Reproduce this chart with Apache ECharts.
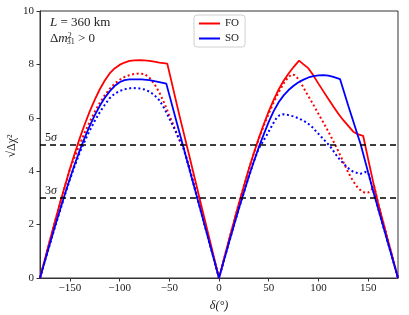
<!DOCTYPE html>
<html>
<head>
<meta charset="utf-8">
<script src="https://cdn.jsdelivr.net/npm/echarts@6/dist/echarts.min.js"></script>
<style>html,body{margin:0;padding:0;background:#fff;}#c{width:409px;height:315px;}</style>
</head>
<body>
<div id="c"></div>
<script>
// ---- data (delta in degrees, sqrt(Δχ²)) ----
const foSolidX = [-180,-175,-170,-165,-160,-155,-150,-145,-140,-135,-130,-125,-120,-115,-110,-105,-100,-95,-90,-85,-80,-75,-70,-65,-60,-52,-40,-30,-20,-10,0,
  5,10,15,20,25,30,35,40,45,50,55,60,65,70,75,80.5,85,90,95,100,105,110,115,120,125,130,135,140,145,150,155,160,170,180];
const foSolidY = [0,0.71,1.42,2.11,2.79,3.44,4.08,4.67,5.24,5.76,6.24,6.67,7.06,7.39,7.66,7.85,7.98,8.07,8.13,8.15,8.16,8.15,8.13,8.1,8.07,8.03,6.12,4.6,3.05,1.53,0,
  0.71,1.42,2.11,2.79,3.44,4.08,4.67,5.24,5.76,6.24,6.67,7.06,7.39,7.66,7.9,8.14,8.0,7.85,7.58,7.28,6.99,6.7,6.42,6.15,5.91,5.7,5.48,5.38,5.32,4.45,3.6,2.8,1.4,0];

const foDotX = [-180,-175,-170,-165,-160,-155,-150,-145,-140,-135,-130,-125,-120,-115,-110,-105,-100,-95,-90,-85,-80,-75,-70,-65,-60,-55,-50,-45,-40,-36,-30,-20,-10,0,
  5,10,15,20,25,30,35,40,45,50,55,60,66,70,73,76,80,84,88,94,100,105,110,115,120,125,130,135,140,144,147,150,153,156,160,170,180];
const foDotY = [0,0.7,1.4,2.1,2.78,3.43,4.05,4.55,5.0,5.45,5.85,6.22,6.55,6.84,7.08,7.28,7.42,7.53,7.6,7.64,7.66,7.64,7.5,7.27,6.95,6.55,6.1,5.65,5.18,4.9,4.18,2.82,1.42,0,
  0.71,1.42,2.11,2.79,3.44,4.08,4.67,5.2,5.7,6.15,6.58,6.95,7.35,7.53,7.62,7.6,7.45,7.2,6.93,6.55,6.15,5.82,5.48,5.12,4.75,4.35,3.95,3.62,3.36,3.24,3.19,3.2,3.28,3.44,2.8,1.4,0];

const soSolidX = [-180,-175,-170,-165,-160,-155,-150,-145,-140,-135,-130,-125,-120,-115,-110,-105,-100,-95,-90,-78,-70,-60,-53,-40,-30,-20,-10,0,
  5,10,15,20,25,30,35,40,45,50,55,60,65,70,75,80,85,90,95,100,105,110,115,121.7,130,142.5,150,157,170,180];
const soSolidY = [0,0.65,1.29,1.93,2.54,3.14,3.72,4.27,4.78,5.26,5.7,6.09,6.44,6.74,6.99,7.19,7.33,7.41,7.44,7.44,7.41,7.34,7.28,5.48,4.11,2.74,1.37,0,
  0.66,1.32,1.97,2.6,3.2,3.8,4.36,4.9,5.38,5.85,6.25,6.58,6.84,7.04,7.2,7.33,7.43,7.51,7.56,7.59,7.6,7.58,7.53,7.45,6.45,5.0,3.95,3.0,1.3,0];

const soDotX = [-180,-175,-170,-165,-160,-155,-150,-145,-140,-135,-130,-125,-120,-115,-110,-105,-100,-95,-87,-80,-75,-70,-65,-60,-55,-50,-45,-40,-36,-30,-20,-10,0,
  5,10,15,20,25,30,35,40,44,48,52,55,58,61,65,70,75,80,88,93,98,103,108,112,118,122,127,131,135,142,147,150,157,170,180];
const soDotY = [0,0.64,1.27,1.9,2.5,3.1,3.68,4.2,4.7,5.13,5.52,5.88,6.2,6.48,6.73,6.9,7.0,7.07,7.12,7.1,7.06,6.98,6.85,6.66,6.35,5.98,5.6,5.2,4.9,4.11,2.74,1.37,0,
  0.66,1.32,1.97,2.6,3.2,3.8,4.36,4.85,5.1,5.35,5.62,5.82,6.0,6.1,6.13,6.1,6.05,5.98,5.83,5.68,5.48,5.28,5.08,4.92,4.6,4.41,4.22,4.08,3.98,3.9,3.97,3.95,3.0,1.3,0];

const xTicks = [-150,-100,-50,0,50,100,150];
const yTicks = [0,2,4,6,8,10];
const sigmaLevels = [5,3];
const sigmaLabels = ['5', '3'];
const seriesNames = ['FO', 'SO'];

function pairs(xs, ys){ return xs.map((x,i)=>[x, ys[i]]); }
const SERIF = '"Liberation Serif","DejaVu Serif",serif';
const RED = '#ff0000', BLUE = '#0000ff';

const chart = echarts.init(document.getElementById('c'), null, {renderer:'canvas'});
chart.setOption({
  animation: false,
  backgroundColor: '#fff',
  grid: {left: 40, right: 11, top: 11, bottom: 37, outerBoundsMode: 'none', containLabel: false,
    show: true, borderColor: '#333', borderWidth: 1, backgroundColor: 'transparent'},
  legend: {
    data: seriesNames,
    orient: 'vertical',
    left: 194, top: 15,
    itemWidth: 21, itemHeight: 10, itemGap: 4,
    padding: [3, 6, 3, 4],
    borderColor: '#d0d0d0', borderWidth: 1, borderRadius: 3,
    itemStyle: {opacity: 0},
    textStyle: {fontFamily: SERIF, fontSize: 11, color: '#222'}
  },
  xAxis: {
    type: 'value', min: -180, max: 180,
    name: 'δ(°)', nameLocation: 'middle', nameGap: 22,
    nameTextStyle: {fontFamily: SERIF, fontSize: 12, color: '#222', fontStyle: 'italic'},
    axisLine: {show: true, onZero: false, lineStyle: {color: '#333', width: 1}},
    axisTick: {show: true, length: 3.5, inside: false, customValues: xTicks, lineStyle: {color: '#333'}},
    axisLabel: {customValues: xTicks, fontFamily: SERIF, fontSize: 11, color: '#222', margin: 5,
      formatter: v => (v < 0 ? '\u2212' + Math.abs(v) : String(v))},
    splitLine: {show: false}
  },
  yAxis: {
    type: 'value', min: 0, max: 10, interval: 2,
    axisLine: {show: true, onZero: false, lineStyle: {color: '#333', width: 1}},
    axisTick: {show: true, length: 3.5, inside: false, lineStyle: {color: '#333'}},
    axisLabel: {customValues: yTicks, fontFamily: SERIF, fontSize: 11, color: '#222', margin: 6},
    splitLine: {show: false}
  },
  graphic: [
    {type: 'text', x: 12, y: 146, rotation: Math.PI / 2, style: {
      text: '\u221A\u0394\u03C7\u00B2', fill: '#222', align: 'center', verticalAlign: 'middle',
      font: '12px ' + SERIF}},
    {type: 'text', left: 50, top: 16, style: {
      text: '{i|L} = 360 km', fill: '#222',
      rich: {i: {fontFamily: SERIF, fontSize: 13, fontStyle: 'italic', fill: '#222'}},
      font: '13px ' + SERIF}},
    {type: 'text', left: 50, top: 32, style: {
      text: '\u0394{i|m}{s|2}{b|31} > 0', fill: '#222',
      rich: {i: {fontFamily: SERIF, fontSize: 13, fontStyle: 'italic', fill: '#222'},
             s: {fontFamily: SERIF, fontSize: 8, fill: '#222', verticalAlign: 'top', padding: [0,0,6,0]},
             b: {fontFamily: SERIF, fontSize: 8, fill: '#222', padding: [6,0,0,-5]}},
      font: '13px ' + SERIF}}
  ],
  series: [
    {name: seriesNames[0], type: 'line', data: pairs(foSolidX, foSolidY), symbol: 'none', z: 3,
      lineStyle: {color: RED, width: 1.8}, itemStyle: {color: RED},
      markLine: {silent: true, symbol: 'none', animation: false,
        lineStyle: {color: '#000', type: [6, 4], width: 1.6},
        label: {position: 'insideStartTop', distance: [5, 1], fontFamily: SERIF, fontSize: 12, color: '#222',
          rich: {i: {fontFamily: SERIF, fontSize: 12, fontStyle: 'italic', color: '#222'}}},
        data: sigmaLevels.map((v,i)=>({yAxis: v, label: {formatter: sigmaLabels[i] + '{i|\u03C3}'}}))}},
    {name: seriesNames[1], type: 'line', data: pairs(soSolidX, soSolidY), symbol: 'none', z: 3,
      lineStyle: {color: BLUE, width: 1.8}, itemStyle: {color: BLUE}},
    {name: 'FO-dotted', type: 'line', data: pairs(foDotX, foDotY), symbol: 'none', z: 2,
      lineStyle: {color: RED, width: 2, type: [2, 2.6]}, itemStyle: {color: RED}},
    {name: 'SO-dotted', type: 'line', data: pairs(soDotX, soDotY), symbol: 'none', z: 2,
      lineStyle: {color: BLUE, width: 2, type: [2, 2.6]}, itemStyle: {color: BLUE}}
  ]
});
</script>
</body>
</html>
